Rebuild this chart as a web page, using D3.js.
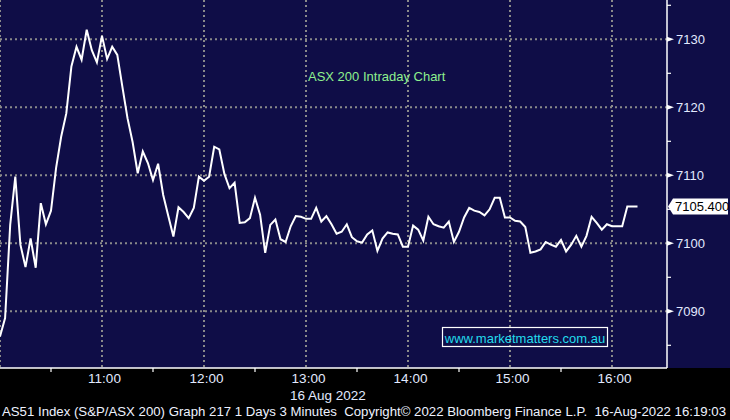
<!DOCTYPE html>
<html><head><meta charset="utf-8">
<script src="https://cdn.jsdelivr.net/npm/d3@7/dist/d3.min.js"></script>
<style>html,body{margin:0;padding:0;background:#000;}svg{display:block;}</style>
</head><body>
<svg id="chart" width="730" height="420"></svg>
<script>
// ---- data ----
const prices = [
  7086.3, 7089.0, 7102.7, 7109.8, 7099.8, 7096.5, 7100.7, 7096.4, 7105.9, 7102.8,
  7104.8, 7111.1, 7115.7, 7119.1, 7126.0, 7128.9, 7127.0, 7131.4, 7128.4, 7126.6,
  7130.5, 7127.1, 7128.9, 7127.7, 7123.0, 7118.4, 7114.9, 7110.3, 7113.5, 7111.8,
  7109.3, 7111.7, 7107.1, 7104.0, 7101.0, 7105.3, 7104.6, 7103.7, 7105.2, 7109.8,
  7109.2, 7109.8, 7114.2, 7113.8, 7110.2, 7108.1, 7108.9, 7103.0, 7103.1, 7103.7,
  7106.7, 7104.2, 7098.6, 7102.7, 7103.5, 7100.6, 7100.2, 7102.5, 7104.0, 7103.9,
  7103.6, 7103.6, 7105.2, 7103.2, 7104.0, 7102.8, 7101.4, 7101.7, 7102.8, 7100.9,
  7100.3, 7100.1, 7101.3, 7101.9, 7098.9, 7100.7, 7101.6, 7101.4, 7101.3, 7099.5,
  7099.5, 7102.6, 7102.0, 7100.4, 7103.9, 7102.8, 7102.5, 7102.3, 7103.2, 7100.2,
  7101.7, 7103.8, 7105.2, 7104.8, 7104.6, 7104.1, 7105.0, 7106.7, 7106.7, 7103.8,
  7103.8, 7103.3, 7103.2, 7102.4, 7098.6, 7098.8, 7099.1, 7100.2, 7099.8, 7099.5,
  7100.5, 7098.8, 7099.8, 7101.1, 7099.5, 7101.1, 7103.9, 7103.0, 7102.0, 7102.8,
  7102.5, 7102.5, 7102.5, 7105.4, 7105.4, 7105.4
];
const sessionStart = "10:00";
const barMinutes = 3;
const gridTimes = ["10:00", "11:00", "12:00", "13:00", "14:00", "15:00", "16:00"];
const labelTimes = ["11:00", "12:00", "13:00", "14:00", "15:00", "16:00"];
const halfHourTimes = ["10:30", "11:30", "12:30", "13:30", "14:30", "15:30"];
const yMajorTicks = [7090, 7100, 7110, 7120, 7130];
const yMinorTicks = [7085, 7095, 7105, 7115, 7125, 7135];
const lastPrice = 7105.4;
const dateLabel = "16 Aug 2022";
const chartTitle = "ASX 200 Intraday Chart";
const watermark = "www.marketmatters.com.au";
const footer = "AS51 Index (S&P/ASX 200) Graph 217 1 Days 3 Minutes  Copyright\u00A9 2022 Bloomberg Finance L.P.  16-Aug-2022 16:19:03";

// ---- layout ----
const W = 730, H = 420;
const plotRight = 667, plotBottom = 368;
const NAVY = "#0f0d47";
const FONT = "'Liberation Sans', Arial, sans-serif";

const parseT = d3.timeParse("%H:%M");
const t0 = parseT(sessionStart);
const times = prices.map((_, i) => d3.timeMinute.offset(t0, i * barMinutes));

const x = d3.scaleTime().domain([parseT("10:00"), parseT("16:00")]).range([0, 612]);
const y = d3.scaleLinear().domain([7090, 7130]).range([311.3, 39.3]);

const svg = d3.select("#chart");
svg.append("rect").attr("width", W).attr("height", H).attr("fill", "#000");
svg.append("rect").attr("x", 0).attr("y", 0).attr("width", W).attr("height", plotBottom).attr("fill", NAVY);

// grid
const grid = svg.append("g").attr("stroke", "#8a8a8a").attr("stroke-width", 2).attr("stroke-dasharray", "2,3");
grid.selectAll(".h").data(yMajorTicks).join("line")
  .attr("x1", 0).attr("x2", plotRight).attr("y1", d => y(d)).attr("y2", d => y(d));
grid.selectAll(".v").data(gridTimes.map(parseT)).join("line")
  .attr("x1", d => x(d)).attr("x2", d => x(d)).attr("y1", 0).attr("y2", plotBottom);

// title text
svg.append("text").attr("x", 308).attr("y", 81).attr("font-family", FONT).attr("font-size", 13)
  .attr("fill", "#8ef08e").text(chartTitle);

// watermark
svg.append("rect").attr("x", 442.5).attr("y", 327.5).attr("width", 165).attr("height", 19)
  .attr("fill", "none").attr("stroke", "#fff").attr("stroke-width", 1.2);
svg.append("text").attr("x", 525).attr("y", 342.5).attr("text-anchor", "middle").attr("font-family", FONT)
  .attr("font-size", 13).attr("fill", "#22dcec").text(watermark);

// price line
const line = d3.line().x((d, i) => x(times[i])).y(d => y(d));
svg.append("path").datum(prices).attr("d", line).attr("fill", "none")
  .attr("stroke", "#fff").attr("stroke-width", 2).attr("stroke-linejoin", "miter");

// right axis
const yAxis = d3.axisRight(y).tickValues(yMajorTicks).tickSize(0).tickPadding(9).tickFormat(d3.format("d"));
const ya = svg.append("g").attr("transform", `translate(${plotRight},0)`).call(yAxis);
ya.select(".domain").remove();
ya.selectAll("text").attr("font-family", FONT).attr("font-size", 13).attr("fill", "#e2eaff");
svg.append("line").attr("x1", plotRight).attr("x2", plotRight).attr("y1", 0).attr("y2", plotBottom)
  .attr("stroke", "#fff").attr("stroke-width", 1.5);
svg.selectAll(".ytri").data(yMajorTicks).join("path")
  .attr("d", d => `M${plotRight},${y(d) - 2.5}L${plotRight + 7},${y(d)}L${plotRight},${y(d) + 2.5}Z`)
  .attr("fill", "#fff");
svg.selectAll(".ymin").data(yMinorTicks).join("line")
  .attr("x1", plotRight).attr("x2", plotRight + 4).attr("y1", d => y(d)).attr("y2", d => y(d))
  .attr("stroke", "#fff").attr("stroke-width", 1.2);

// last price label
const ly = y(lastPrice);
svg.append("path")
  .attr("d", `M${plotRight + 1},${ly}L${plotRight + 6},${ly - 8}L728,${ly - 8}L728,${ly + 8}L${plotRight + 6},${ly + 8}Z`)
  .attr("fill", "#fff");
svg.append("text").attr("x", plotRight + 8).attr("y", ly + 4.5).attr("font-family", FONT).attr("font-size", 13)
  .attr("fill", "#000").text(d3.format(".3f")(lastPrice));

// bottom axis
svg.append("line").attr("x1", 0).attr("x2", plotRight).attr("y1", plotBottom).attr("y2", plotBottom)
  .attr("stroke", "#fff").attr("stroke-width", 1.5);
const xAxis = d3.axisBottom(x).tickValues(labelTimes.map(parseT)).tickSize(0).tickPadding(5)
  .tickFormat(d3.timeFormat("%H:%M"));
const xa = svg.append("g").attr("transform", `translate(2,${plotBottom})`).call(xAxis);
xa.select(".domain").remove();
xa.selectAll("text").attr("font-family", FONT).attr("font-size", 13.5).attr("fill", "#e2eaff");
svg.selectAll(".xhalf").data(halfHourTimes.map(parseT)).join("line")
  .attr("x1", d => x(d)).attr("x2", d => x(d)).attr("y1", plotBottom).attr("y2", plotBottom + 4)
  .attr("stroke", "#fff").attr("stroke-width", 1.2);

svg.append("text").attr("x", 290).attr("y", 400).attr("font-family", FONT).attr("font-size", 13.5)
  .attr("fill", "#e2eaff").text(dateLabel);
svg.append("text").attr("x", 2).attr("y", 416).attr("font-family", FONT).attr("font-size", 12.5)
  .attr("fill", "#eef2ff").style("white-space", "pre")
  .attr("textLength", 724).attr("lengthAdjust", "spacingAndGlyphs").text(footer);
</script>
</body></html>
